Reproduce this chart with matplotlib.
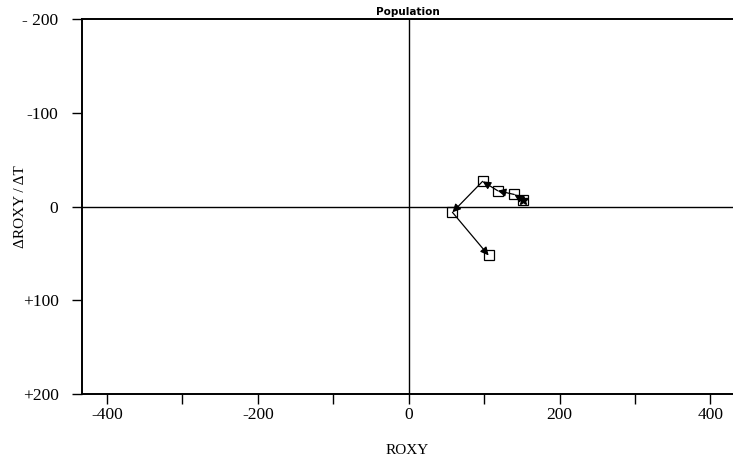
import matplotlib.pyplot as plt
import numpy as np

# trajectory of the population state, in drawing order
roxy = [151, 140, 118, 98, 58, 106]
d_roxy = [-7.5, -13, -17, -27, 6, 52]

x_ticks = [-400, -200, 0, 200, 400]
x_minor = [-300, -100, 100, 300]
y_ticks = [-200, -100, 0, 100, 200]
y_labels = ['- 200', '-100', '0', '+100', '+200']

serif = 'Liberation Serif'

fig = plt.figure(figsize=(7.33, 4.66), dpi=100)
ax = fig.add_axes([0.112, 0.154, 0.888, 0.805])

ax.axhline(0, color='black', lw=1.0, zorder=1)
ax.axvline(0, color='black', lw=1.0, zorder=1)

ax.plot(roxy, d_roxy, ls='none', marker='s', ms=7, mfc='none', mec='black',
        mew=0.9, zorder=3)
for i in range(1, len(roxy)):
    ax.annotate('', xy=(roxy[i], d_roxy[i]), xytext=(roxy[i - 1], d_roxy[i - 1]),
                arrowprops=dict(arrowstyle='-|>', color='black', lw=0.9,
                                mutation_scale=12, shrinkA=0, shrinkB=0),
                zorder=4)
ax.plot(roxy[0], d_roxy[0], marker='*', ms=7, color='black', ls='none', zorder=4)

ax.set_xlim(-433, 430)
ax.set_ylim(200, -200)

ax.set_xticks(x_ticks)
ax.set_xticks(x_minor, minor=True)
ax.set_xticklabels([str(v) for v in x_ticks], fontfamily=serif, fontsize=12.5)
ax.set_yticks(y_ticks)
ax.set_yticklabels(y_labels, fontfamily=serif, fontsize=12.5)

ax.tick_params(axis='x', which='major', direction='out', length=7, width=1, pad=2)
ax.tick_params(axis='x', which='minor', direction='out', length=7, width=1)
ax.tick_params(axis='y', which='major', direction='out', length=7, width=1, pad=10)

for side in ['left', 'top', 'bottom']:
    ax.spines[side].set_linewidth(1.4)
ax.spines['right'].set_visible(False)

ax.set_title('Population', fontsize=7.5, fontweight='bold', pad=3)
ax.set_xlabel('ROXY', fontfamily=serif, fontsize=11, va='center')
ax.xaxis.set_label_coords(0.5, -0.15)
ax.set_ylabel('\u0394ROXY / \u0394T', fontfamily=serif, fontsize=11, va='center')
ax.yaxis.set_label_coords(-0.095, 0.5)

fig.savefig('out.png', dpi=100)
